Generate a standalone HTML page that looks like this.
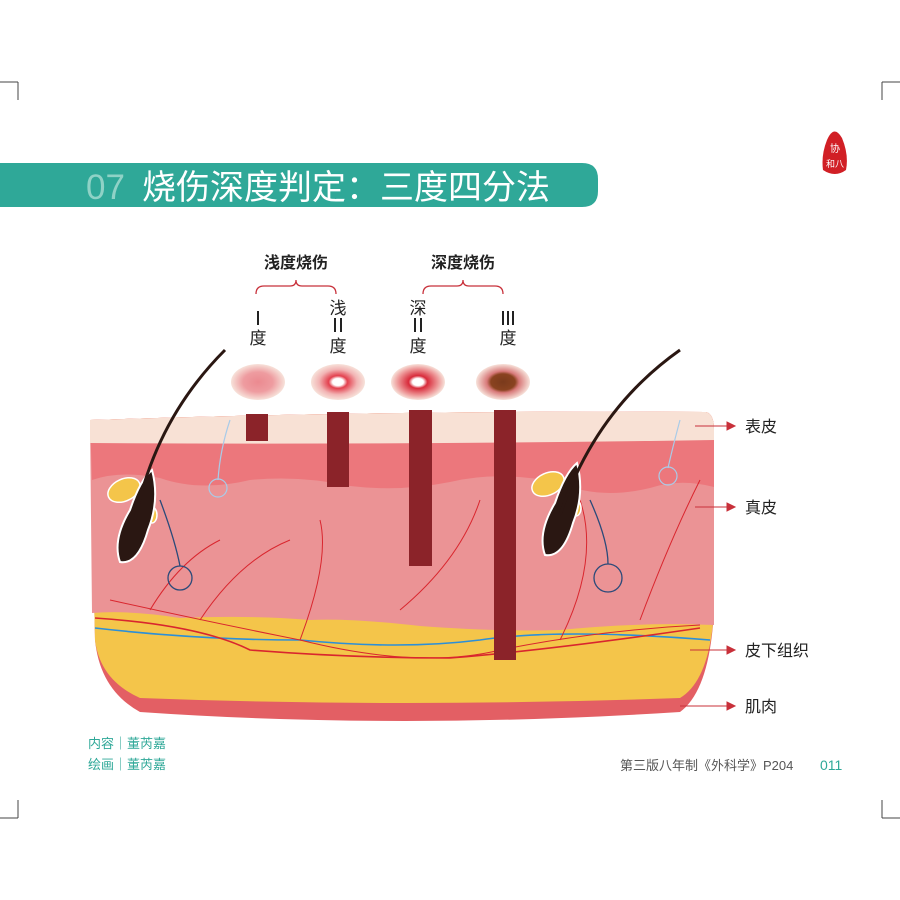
<!DOCTYPE html>
<html><head><meta charset="utf-8"><style>
html,body{margin:0;padding:0;background:#fff}
svg{display:block}
text{font-family:"Liberation Sans","Noto Sans CJK SC",sans-serif}
</style></head><body>
<svg width="900" height="900" viewBox="0 0 900 900" xmlns="http://www.w3.org/2000/svg">
<defs>
<radialGradient id="c1"><stop offset="0" stop-color="#eb8a90"/><stop offset="0.55" stop-color="#ee9ca0"/><stop offset="1" stop-color="#f7e2da"/></radialGradient>
<radialGradient id="c2"><stop offset="0" stop-color="#fff"/><stop offset="0.2" stop-color="#fff"/><stop offset="0.35" stop-color="#e3404e"/><stop offset="0.7" stop-color="#f2b4b4"/><stop offset="1" stop-color="#f7e2da"/></radialGradient>
<radialGradient id="c3"><stop offset="0" stop-color="#fff"/><stop offset="0.2" stop-color="#fff"/><stop offset="0.35" stop-color="#d82a3a"/><stop offset="0.75" stop-color="#ee9a9a"/><stop offset="1" stop-color="#f7e2da"/></radialGradient>
<radialGradient id="c4"><stop offset="0" stop-color="#7a3a1c"/><stop offset="0.45" stop-color="#8a4320"/><stop offset="0.6" stop-color="#d87a7a"/><stop offset="1" stop-color="#f7e2da"/></radialGradient>
</defs>
<g stroke="#444" stroke-width="1" fill="none">
<path d="M0 82H18M18 82V100"/>
<path d="M900 82H882M882 82V100"/>
<path d="M0 818H18M18 818V800"/>
<path d="M900 818H882M882 818V800"/>
</g>
<path d="M827 140 Q834 124 842 138 Q849 155 846 170 Q835 178 823 170 Q821 155 827 140Z" fill="#d11f25"/>
<text x="835" y="152" font-size="10" fill="#fff" text-anchor="middle">协</text>
<text x="835" y="167" font-size="9" fill="#fff" text-anchor="middle">和八</text>
<path d="M0 163H582Q598 163 598 179V191Q598 207 582 207H0Z" fill="#2fa898"/>
<text x="86" y="199" font-size="35" fill="#8fd2c6">07</text>
<text x="142" y="199" font-size="34" fill="#fff">烧伤深度判定：三度四分法</text>
<text x="296" y="268" font-size="16" font-weight="bold" fill="#222" text-anchor="middle">浅度烧伤</text>
<text x="463" y="268" font-size="16" font-weight="bold" fill="#222" text-anchor="middle">深度烧伤</text>
<g stroke="#c8303a" stroke-width="1.3" fill="none">
<path d="M256 294Q256 286 264 286H290Q296 286 296 280Q296 286 302 286H328Q336 286 336 294"/>
<path d="M423 294Q423 286 431 286H457Q463 286 463 280Q463 286 469 286H495Q503 286 503 294"/>
</g>
<g font-size="17" fill="#222" text-anchor="middle">
<rect x="257" y="311" width="2" height="14" fill="#222"/>
<text x="258" y="344">度</text>
<text x="338" y="314">浅</text>
<rect x="334" y="318" width="2" height="14" fill="#222"/><rect x="340" y="318" width="2" height="14" fill="#222"/>
<text x="338" y="352">度</text>
<text x="418" y="314">深</text>
<rect x="414" y="318" width="2" height="14" fill="#222"/><rect x="420" y="318" width="2" height="14" fill="#222"/>
<text x="418" y="352">度</text>
<rect x="502" y="311" width="2" height="14" fill="#222"/><rect x="507" y="311" width="2" height="14" fill="#222"/><rect x="512" y="311" width="2" height="14" fill="#222"/>
<text x="508" y="344">度</text>
</g>
<ellipse cx="258" cy="382" rx="27" ry="18" fill="url(#c1)"/>
<ellipse cx="338" cy="382" rx="27" ry="18" fill="url(#c2)"/>
<ellipse cx="418" cy="382" rx="27" ry="18" fill="url(#c3)"/>
<ellipse cx="503" cy="382" rx="27" ry="18" fill="url(#c4)"/>
<path d="M90 420 Q400 410 706 412 Q714 414 714 430 L714 610 Q710 690 680 712 Q400 730 140 712 Q100 690 95 640 L90 420Z" fill="#e35f64"/>
<path d="M90 420 Q400 410 706 412 Q714 414 714 430 L714 610 Q710 680 680 698 Q400 708 140 698 Q100 680 95 640 L90 420Z" fill="#f4c54a"/>
<path d="M90 420 Q400 410 706 412 Q714 414 714 430 L714 625 Q640 622 560 630 Q500 632 420 626 Q350 618 310 620 Q250 615 180 618 Q130 610 92 613 L90 420Z" fill="#eb9395"/>
<path d="M90 420 Q400 410 706 412 Q714 414 714 430 L714 487 Q680 478 650 488 Q600 500 560 483 Q500 470 450 482 Q400 492 350 486 Q300 475 250 480 Q200 492 160 478 Q120 470 92 480Z" fill="#ec777c"/>
<path d="M90 420 Q400 410 706 412 Q714 414 714 430 L714 440 Q400 445 90 443Z" fill="#f8e1d5"/>
<g fill="none" stroke-width="1.6">
<path d="M95 628 Q200 640 300 640 Q400 650 480 640 Q560 628 710 640" stroke="#2c8fd8"/>
<path d="M95 618 Q200 625 250 650 Q350 658 450 658 Q550 650 700 628" stroke="#d9262e"/>
<path d="M110 600 Q200 620 300 640 Q420 670 500 650 Q600 630 700 625" stroke="#d9262e" stroke-width="1"/>
<path d="M300 640 Q330 560 320 520 M400 610 Q460 560 480 500 M560 640 Q600 560 580 500 M640 620 Q670 540 700 480 M150 610 Q180 560 220 540 M200 620 Q240 560 290 540" stroke="#d9262e" stroke-width="1"/>
</g>
<g fill="#8b2329">
<rect x="246" y="414" width="22" height="27"/>
<rect x="327" y="412" width="22" height="75"/>
<rect x="409" y="410" width="23" height="156"/>
<rect x="494" y="410" width="22" height="250"/>
</g>
<g fill="#f4c54a" stroke="#fff" stroke-width="1.5">
<ellipse cx="124" cy="490" rx="17" ry="11" transform="rotate(-25 124 490)"/>
<ellipse cx="548" cy="484" rx="17" ry="11" transform="rotate(-25 548 484)"/>
<ellipse cx="152" cy="515" rx="5" ry="8"/><ellipse cx="576" cy="508" rx="5" ry="8"/>
</g>
<g fill="#2a1712" stroke="#fff" stroke-width="2">
<path d="M120 562 Q112 540 130 510 Q140 480 152 470 Q160 500 148 530 Q138 565 120 562Z"/>
<path d="M545 555 Q537 533 555 503 Q565 473 577 463 Q585 493 573 523 Q563 558 545 555Z"/>
</g>
<path d="M135 520 Q155 420 225 350" stroke="#2a1712" stroke-width="3" fill="none"/>
<path d="M560 515 Q595 410 680 350" stroke="#2a1712" stroke-width="3" fill="none"/>
<g fill="none" stroke="#2a4a7a" stroke-width="1.3">
<circle cx="180" cy="578" r="12"/><circle cx="608" cy="578" r="14"/>
<path d="M160 500 Q175 540 180 566 M590 500 Q608 540 608 564"/>
</g>
<g fill="none" stroke="#a9cbe8" stroke-width="1.2">
<circle cx="218" cy="488" r="9"/><circle cx="668" cy="476" r="9"/>
<path d="M230 420 Q220 450 218 480 M680 420 Q672 450 668 468"/>
</g>
<g stroke="#c8303a" stroke-width="1" fill="#c8303a">
<path d="M695 426H730"/><path d="M735 426L727 422V430Z"/>
<path d="M695 507H730"/><path d="M735 507L727 503V511Z"/>
<path d="M690 650H730"/><path d="M735 650L727 646V654Z"/>
<path d="M680 706H730"/><path d="M735 706L727 702V710Z"/>
</g>
<g font-size="16" fill="#222">
<text x="745" y="432">表皮</text>
<text x="745" y="513">真皮</text>
<text x="745" y="656">皮下组织</text>
<text x="745" y="712">肌肉</text>
</g>
<g font-size="13" fill="#2fa898" font-family="'Noto Serif CJK SC',serif">
<text x="88" y="748">内容｜董芮嘉</text>
<text x="88" y="769">绘画｜董芮嘉</text>
</g>
<text x="620" y="770" font-size="13" fill="#555" font-family="'Noto Serif CJK SC',serif">第三版八年制《外科学》P204</text>
<text x="820" y="770" font-size="14" fill="#2fa898">011</text>
</svg>
</body></html>
